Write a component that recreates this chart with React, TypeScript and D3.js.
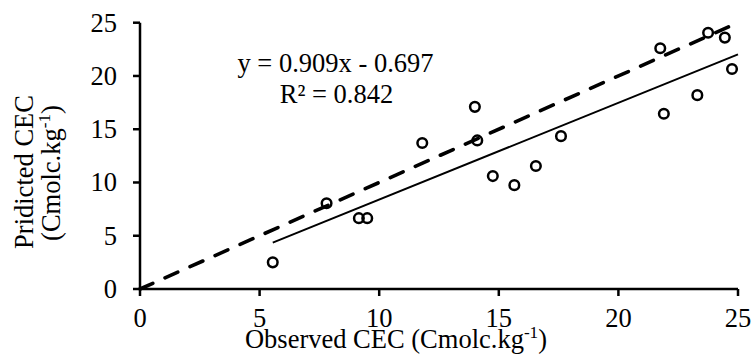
import React from "react";
import * as d3 from "d3";

const observed = [5.55, 7.8, 9.15, 9.5, 11.8, 14.0, 14.1, 14.75, 15.65, 16.55, 17.6, 21.75, 21.9, 23.3, 23.75, 24.45, 24.75];
const predicted = [2.5, 8.05, 6.65, 6.65, 13.7, 17.1, 13.95, 10.6, 9.75, 11.55, 14.35, 22.6, 16.45, 18.2, 24.05, 23.6, 20.65];
const xTicks = [0, 5, 10, 15, 20, 25];
const yTicks = [0, 5, 10, 15, 20, 25];
const slope = 0.909;
const intercept = -0.697;
const trendRange = [5.55, 25];
const identityRange = [0, 25];

const FONT = "'Liberation Serif', 'Times New Roman', serif";
const FS = 26.5;

export default function App() {
  const W = 753, H = 355;
  const x = d3.scaleLinear().domain([0, 25]).range([140, 738]);
  const y = d3.scaleLinear().domain([0, 25]).range([289, 22.7]);
  const pts = observed.map((o, i) => [o, predicted[i]] as [number, number]);
  const line = d3.line<[number, number]>().x(d => x(d[0])).y(d => y(d[1]));
  const trend = trendRange.map(v => [v, slope * v + intercept] as [number, number]);
  const ident = identityRange.map(v => [v, v] as [number, number]);
  const x0 = x(0), y0 = y(0);
  return (
    <svg width={W} height={H} style={{ position: "absolute", left: 0, top: 0, background: "#fff" }}
      fontFamily={FONT} fontSize={FS}>
      {/* axes */}
      <line x1={x0} x2={x(25)} y1={y0} y2={y0} stroke="#000" strokeWidth={2.5} />
      <line x1={x0} x2={x0} y1={y(25)} y2={y0} stroke="#000" strokeWidth={2.5} />
      {xTicks.map(t => (
        <g key={"x" + t}>
          <line x1={x(t)} x2={x(t)} y1={y0} y2={y0 + 7} stroke="#000" strokeWidth={2.5} />
          <text x={x(t)} y={327} textAnchor="middle">{t}</text>
        </g>
      ))}
      {yTicks.map(t => (
        <g key={"y" + t}>
          <line x1={x0 - 7} x2={x0} y1={y(t)} y2={y(t)} stroke="#000" strokeWidth={2.5} />
          <text x={117} y={y(t) + 9} textAnchor="end">{t}</text>
        </g>
      ))}
      {/* points */}
      {pts.map((p, i) => (
        <circle key={i} cx={x(p[0])} cy={y(p[1])} r={4.8} fill="none" stroke="#000" strokeWidth={2.5} />
      ))}
      {/* lines */}
      <path d={line(ident) || ""} fill="none" stroke="#000" strokeWidth={3.6} strokeDasharray="14 13.4" strokeLinecap="round" />
      <path d={line(trend) || ""} fill="none" stroke="#000" strokeWidth={2} />
      {/* equation */}
      <text x={335.5} y={72} textAnchor="middle">y = 0.909x - 0.697</text>
      <text x={336.5} y={103} textAnchor="middle">R² = 0.842</text>
      {/* axis titles */}
      <text x={396} y={348} textAnchor="middle">
        Observed CEC (Cmolc.kg<tspan fontSize={FS * 0.65} dy={-10}>-1</tspan><tspan dy={10}>)</tspan>
      </text>
      <g transform="translate(33,172) rotate(-90)">
        <text x={0} y={0} textAnchor="middle">Pridicted CEC</text>
      </g>
      <g transform="translate(60,173) rotate(-90)">
        <text x={0} y={0} textAnchor="middle">
          (Cmolc.kg<tspan fontSize={FS * 0.65} dy={-10}>-1</tspan><tspan dy={10}>)</tspan>
        </text>
      </g>
    </svg>
  );
}
